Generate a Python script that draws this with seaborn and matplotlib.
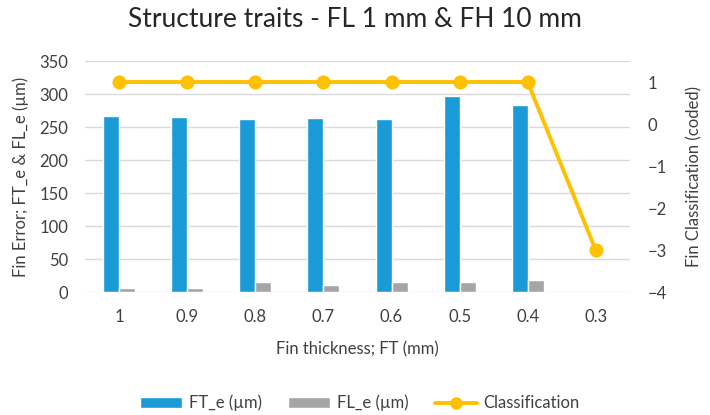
import pandas as pd
import matplotlib.pyplot as plt
import seaborn as sns
from matplotlib.patches import Patch
from matplotlib.lines import Line2D

# --- data ---
thickness = ["1", "0.9", "0.8", "0.7", "0.6", "0.5", "0.4", "0.3"]
ft_e = [267, 265, 262, 264, 262, 297, 283, 0]
fl_e = [7, 6, 15, 11, 15, 15, 19, 0]
classification = [1, 1, 1, 1, 1, 1, 1, -3]

BLUE = "#1a9bd8"
GRAY = "#a5a5a5"
GOLD = "#ffc000"
TEXT = "#404040"

sns.set_theme(style="white")
plt.rcParams["font.family"] = ["Lato", "DejaVu Sans"]

df = pd.DataFrame({"FT": thickness, "FT_e (µm)": ft_e, "FL_e (µm)": fl_e})
long_df = df.melt(id_vars="FT", var_name="series", value_name="err")

fig = plt.figure(figsize=(7.1, 4.15), dpi=100)
ax = fig.add_axes([0.12, 0.296, 0.767, 0.557])

sns.barplot(data=long_df, x="FT", y="err", hue="series", order=thickness,
            palette=[BLUE, GRAY], width=0.47, saturation=1, ax=ax, legend=False)
ax.set_ylim(0, 350)
ax.set_yticks(range(0, 351, 50))
ax.yaxis.grid(True, color="#d9d9d9", linewidth=1)
ax.set_axisbelow(True)
ax.set_xlabel("Fin thickness; FT (mm)", fontsize=12, color=TEXT, labelpad=12)
ax.set_ylabel("Fin Error; FT_e & FL_e (µm)", fontsize=12, color=TEXT, labelpad=8)
ax.tick_params(axis="x", length=0, labelsize=12, labelcolor=TEXT, pad=12)
ax.tick_params(axis="y", length=0, labelsize=12, labelcolor=TEXT, pad=12)
sns.despine(ax=ax, left=True, bottom=True)

ax2 = ax.twinx()
sns.pointplot(x=thickness, y=classification, order=thickness, color=GOLD,
              ax=ax2, linewidth=2.8, markersize=8)
ax2.set_ylim(-4, 1.5)
ax2.set_yticks(range(-4, 2))
ax2.set_ylabel("Fin Classification (coded)", fontsize=12, color=TEXT, labelpad=14)
ax2.tick_params(axis="y", length=0, labelsize=12, labelcolor=TEXT, pad=13)
ax2.grid(False)
for s in ax2.spines.values():
    s.set_visible(False)
ax2.set_xlim(ax.get_xlim())

fig.suptitle("Structure traits - FL 1 mm & FH 10 mm", fontsize=19, color="#262626",
             x=0.50, y=0.982)

handles = [
    Patch(facecolor=BLUE, label="FT_e (µm)"),
    Patch(facecolor=GRAY, label="FL_e (µm)"),
    Line2D([0], [0], color=GOLD, linewidth=2.8, marker="o", markersize=8,
           label="Classification"),
]
leg = fig.legend(handles=handles, loc="center", bbox_to_anchor=(0.507, 0.029), ncol=3,
                 frameon=False, fontsize=12, handlelength=2.5, handleheight=0.6,
                 columnspacing=1.6, handletextpad=0.4)
for t in leg.get_texts():
    t.set_color(TEXT)

fig.savefig("out.png", dpi=100)
